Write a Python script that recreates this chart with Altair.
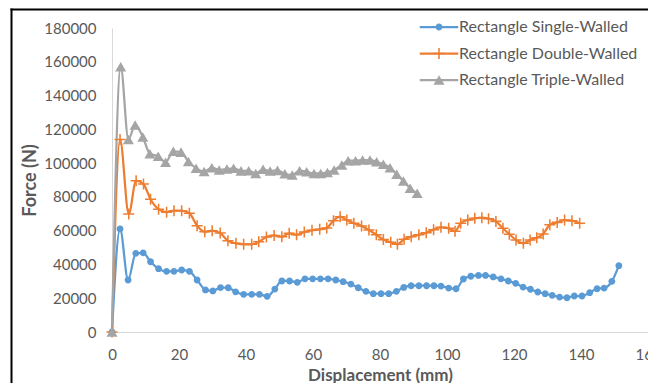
import altair as alt
import pandas as pd

series_names = ["Rectangle Single-Walled", "Rectangle Double-Walled", "Rectangle Triple-Walled"]
colors = ["#5B9BD5", "#ED7D31", "#A5A5A5"]

single_x = [0, 2.4, 4.8, 7.1, 9.3, 11.5, 13.9, 16.3, 18.5, 20.8, 23.1, 25.4, 27.9, 30.1, 32.4,
            34.7, 36.9, 39.3, 41.7, 44.0, 46.3, 48.6, 50.7, 53.0, 55.3, 57.6, 59.9, 62.2, 64.5,
            66.8, 69.0, 71.3, 73.5, 75.8, 78.0, 80.3, 82.6, 84.9, 87.1, 89.3, 91.6, 93.9, 96.1,
            98.2, 100.5, 102.7, 104.9, 107.1, 109.4, 111.5, 113.8, 116.1, 118.3, 120.5, 122.7,
            124.9, 127.1, 129.3, 131.4, 133.6, 135.8, 138.0, 140.3, 142.6, 144.8, 146.9, 149.2, 151.3]
single_y = [0, 61000, 30800, 46600, 46900, 41600, 37500, 35900, 35900, 36700, 35900, 30800, 24900,
            24300, 26300, 26200, 23800, 22300, 22300, 22300, 21100, 25400, 30200, 30200, 29400,
            31500, 31500, 31500, 31500, 30800, 29800, 28400, 26200, 24100, 22700, 22700, 22700,
            24100, 26400, 27400, 27400, 27400, 27400, 27200, 26000, 25600, 31400, 33000, 33500,
            33500, 32600, 31500, 30200, 28800, 26600, 25300, 23700, 22700, 21700, 20700, 20300,
            21300, 21300, 23300, 25600, 26000, 30000, 39300]

double_x = [0, 2.4, 5.0, 7.2, 9.4, 11.5, 13.9, 16.3, 18.5, 20.8, 23.1, 25.4, 27.7, 29.9, 32.3,
            34.6, 37.0, 39.3, 41.7, 43.8, 46.1, 48.4, 50.7, 52.9, 55.1, 57.4, 59.7, 62.0, 64.1,
            66.1, 68.1, 70.1, 72.2, 74.5, 76.7, 78.9, 81.0, 83.2, 85.2, 87.2, 89.3, 91.6, 93.8,
            96.0, 98.2, 100.5, 102.4, 104.1, 106.2, 108.3, 110.4, 112.4, 114.6, 116.7, 118.6,
            120.6, 122.8, 124.8, 126.8, 128.7, 130.7, 132.9, 135.1, 137.3, 139.6]
double_y = [0, 114000, 69900, 89600, 87600, 78600, 72700, 70900, 71800, 71800, 70300, 62900, 59300,
            60000, 58600, 54000, 52500, 51900, 51900, 53400, 56200, 57200, 56400, 58400, 57600,
            59200, 60200, 60800, 61600, 65900, 68300, 66300, 64400, 62800, 60400, 57600, 54700,
            53100, 51900, 54900, 56400, 57600, 58800, 60600, 62000, 61400, 59600, 64400, 66300,
            67300, 67700, 67100, 65500, 61400, 57900, 54500, 52500, 54500, 55800, 58000, 63500,
            64900, 66300, 65900, 64400]

triple_x = [0, 2.6, 4.9, 6.9, 9.2, 11.3, 13.8, 16.0, 18.3, 20.6, 22.8, 25.1, 27.5, 29.8, 32.0,
            34.3, 36.3, 38.5, 40.8, 42.9, 45.1, 47.2, 49.4, 51.6, 53.8, 56.0, 58.1, 60.3, 62.3,
            64.3, 66.3, 68.6, 70.5, 72.7, 74.8, 77.0, 79.0, 81.0, 83.0, 85.0, 87.0, 89.0, 91.1]
triple_y = [0, 157000, 114000, 122500, 115500, 105500, 104000, 100500, 107000, 106500, 101000,
            97000, 95000, 97300, 95900, 96500, 96900, 95400, 95500, 93900, 96300, 95300, 95700,
            93700, 92900, 95500, 94900, 93900, 93900, 94500, 95900, 98900, 101400, 101400, 101800,
            101800, 100800, 99300, 97300, 93400, 89400, 85100, 82100]

x_ticks = [0, 20, 40, 60, 80, 100, 120, 140, 160]
y_ticks = [0, 20000, 40000, 60000, 80000, 100000, 120000, 140000, 160000, 180000]

rows = []
for name, xs, ys in zip(series_names, [single_x, double_x, triple_x], [single_y, double_y, triple_y]):
    for i, (xv, yv) in enumerate(zip(xs, ys)):
        rows.append({"series": name, "disp": xv, "force": yv, "idx": i})
df = pd.DataFrame(rows)

FONT = "Lato"
TXT = "#595959"
AXC = "#D9D9D9"

circle_path = "M0.62,0A0.62,0.62 0 1,1 -0.62,0A0.62,0.62 0 1,1 0.62,0Z"
plus_path = "M-1,-0.14H-0.14V-1H0.14V-0.14H1V0.14H0.14V1H-0.14V0.14H-1Z"
line_path = "M-3.5,0H3.5"

x_enc = alt.X("disp:Q", scale=alt.Scale(domain=[0, 160], nice=False, zero=False),
              axis=alt.Axis(values=x_ticks, title="Displacement (mm)", grid=False, ticks=False,
                            tickSize=0, domainColor=AXC, domainWidth=1, labelColor=TXT,
                            labelFont=FONT, labelFontSize=15, labelPadding=15,
                            titleFont=FONT, titleFontSize=17, titleFontWeight="bold",
                            titleColor=TXT, titleY=48, titleBaseline="alphabetic",
                            titleAlign="center", labelFlush=False))
y_enc = alt.Y("force:Q", scale=alt.Scale(domain=[0, 180000], nice=False),
              axis=alt.Axis(values=y_ticks, format="d", title="Force (N)", grid=False, ticks=False,
                            tickSize=0, domainColor=AXC, domainWidth=1, labelColor=TXT,
                            labelFont=FONT, labelFontSize=15, labelPadding=16,
                            titleFont=FONT, titleFontSize=18, titleFontWeight="bold",
                            titleColor=TXT, titleAngle=270, titleX=-82, titleY=152,
                            titleAlign="center", titleBaseline="middle"))

common = dict(orient="none", legendX=319, legendY=-9, title=None, labelFont=FONT,
              labelFontSize=16, symbolSize=121, rowPadding=10.5, labelOffset=12, labelLimit=400)

lines = alt.Chart(df).mark_line(strokeWidth=2.25, interpolate="monotone").encode(
    x=x_enc, y=y_enc,
    color=alt.Color("series:N", scale=alt.Scale(domain=series_names, range=colors),
                    legend=alt.Legend(labelColor=TXT, symbolType=line_path,
                                      symbolStrokeWidth=2.25, **common)),
)

pt_legend = alt.Legend(labelColor="transparent", **common)
points = alt.Chart(df).mark_point(filled=True, size=121, opacity=1).encode(
    x=x_enc, y=y_enc,
    color=alt.Color("series:N", scale=alt.Scale(domain=series_names, range=colors), legend=pt_legend),
    shape=alt.Shape("series:N", scale=alt.Scale(domain=series_names,
                                                range=[circle_path, plus_path, "triangle-up"]),
                    legend=pt_legend),
)

frame_data = alt.Data(values=[{"k": 1}])
frame_left = alt.Chart(frame_data).mark_rule(color="black", strokeWidth=2).encode(
    x=alt.value(-100.5), y=alt.value(-19.5), y2=alt.value(400))
frame_top = alt.Chart(frame_data).mark_rule(color="black", strokeWidth=2).encode(
    x=alt.value(-101.5), x2=alt.value(600), y=alt.value(-18.5))

chart = alt.layer(lines, points, frame_left, frame_top).resolve_scale(
    color="independent", shape="independent"
).properties(
    width=536, height=304,
    autosize=alt.AutoSizeParams(type="none"),
    padding={"left": 104, "top": 20, "right": 0, "bottom": 51},
    background="white",
).configure_view(stroke=None)

chart.save("out.html", embed_options={"renderer": "svg", "actions": False})
